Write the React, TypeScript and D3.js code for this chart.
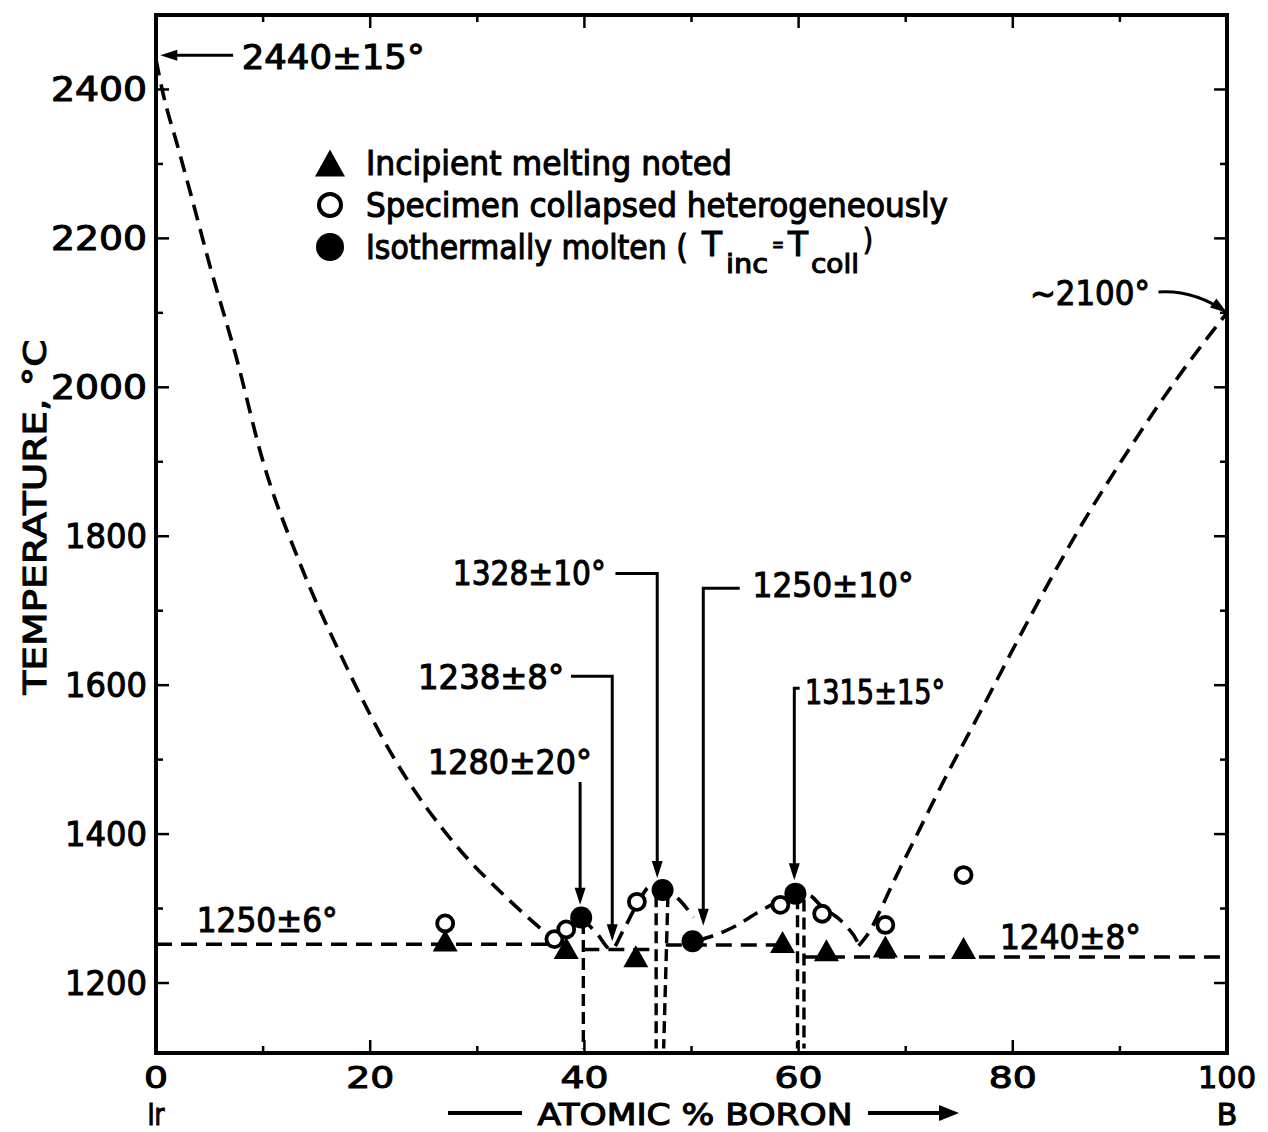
import React from "react";
import * as d3 from "d3";

type Pt = [number, number];

// ---------- axes ----------
const xMajorTicks = [0, 20, 40, 60, 80, 100];
const xMinorTicks = [10, 30, 50, 70, 90];
const yMajorTicks = [1200, 1400, 1600, 1800, 2000, 2200, 2400];
const yMinorTicks = [1300, 1500, 1700, 1900, 2100, 2300];

// ---------- observations (atomic % B, °C) ----------
const incipientMelting: Pt[] = [
  [27.0, 1257], [38.3, 1247], [44.8, 1236], [58.5, 1255], [62.6, 1244], [68.1, 1249], [75.4, 1247],
];
const collapsedHeterogeneously: Pt[] = [
  [27.0, 1280], [37.2, 1259], [38.3, 1272], [44.9, 1309], [58.3, 1305], [62.2, 1293], [68.1, 1278], [75.4, 1345],
];
const isothermallyMolten: Pt[] = [[39.7, 1288], [47.3, 1325], [50.1, 1256], [59.7, 1320]];

// ---------- phase boundaries (dashed) ----------
const liquidusIr: Pt[] = [
  [0, 2440], [0.65, 2395], [2, 2325], [3.2, 2262], [5, 2165], [7.5, 2040], [10, 1900], [13.4, 1765],
  [17.6, 1630], [22.3, 1500], [28, 1385], [33, 1311], [36.8, 1262],
];
const liquidusB: Pt[] = [
  [65.6, 1250], [66.7, 1271], [67.7, 1300], [69, 1340], [70.8, 1392], [73.5, 1470], [77, 1565],
  [81, 1675], [86, 1805], [91, 1920], [95.5, 2015], [100, 2100],
];
const domeIrB: Pt[] = [
  [39.7, 1288], [41.2, 1266], [42.5, 1245], [43.6, 1270], [44.9, 1305], [46.2, 1330], [47.3, 1327],
  [48.7, 1314], [50.2, 1288],
];
const domeIrB2: Pt[] = [
  [50.6, 1257], [52.5, 1266], [54.3, 1278], [56.1, 1294], [57.6, 1306], [59.7, 1321], [61, 1318],
  [62.2, 1302], [63.6, 1288], [64.6, 1274], [65.4, 1258], [65.8, 1245],
];
const eutectics: Pt[][] = [
  [[0, 1252], [37, 1252]],
  [[39.9, 1245], [46.7, 1245]],
  [[47.6, 1251], [58.2, 1251]],
  [[60.5, 1235], [100, 1235]],
];
const compoundLines: Pt[][] = [
  [[39.9, 1282], [39.9, 1112]],
  [[46.7, 1318], [46.7, 1112]],
  [[47.8, 1318], [47.4, 1112]],
  [[59.9, 1315], [59.9, 1112]],
  [[60.5, 1312], [60.5, 1112]],
];

// ---------- annotations ----------
const arrowNotes = [
  { text: "2440±15°", at: [8.0, 2443] as Pt, anchor: "start", width: 183, path: [[7.2, 2446], [0.4, 2446]] as Pt[] },
  { text: "1328±10°", at: [42.0, 1750] as Pt, anchor: "end", width: 153, path: [[42.9, 1750], [46.8, 1750], [46.8, 1341]] as Pt[] },
  { text: "1238±8°", at: [38.1, 1611] as Pt, anchor: "end", width: 146, path: [[38.75, 1612], [42.6, 1612], [42.6, 1256]] as Pt[] },
  { text: "1280±20°", at: [33.05, 1497] as Pt, anchor: "middle", width: 164, path: [[39.6, 1470], [39.6, 1305]] as Pt[] },
  { text: "1250±10°", at: [55.7, 1735] as Pt, anchor: "start", width: 161, path: [[54.5, 1730], [51.1, 1730], [51.1, 1277]] as Pt[] },
  { text: "1315±15°", at: [60.6, 1591] as Pt, anchor: "start", width: 140, path: [[60.1, 1596], [59.6, 1596], [59.6, 1338]] as Pt[] },
];
const plainNotes = [
  { text: "1250±6°", at: [3.8, 1285] as Pt, width: 141 },
  { text: "1240±8°", at: [78.8, 1262] as Pt, width: 141 },
];
const curvedNote = { text: "~2100°", at: [92.8, 2127] as Pt, width: 120, from: [93.6, 2128] as Pt, ctrl: [97.0, 2131] as Pt, to: [100, 2100] as Pt };

const legendLabels = ["Incipient melting noted", "Specimen collapsed heterogeneously", "Isothermally molten ("];

const FONT = "DejaVu Sans";

function tickLabelWidth(s: string) {
  let w = 0;
  for (const c of s) w += c === "1" ? 10 : 24;
  return w;
}

function arrowHead(tip: Pt, from: Pt, len = 16, half = 5) {
  const dx = tip[0] - from[0];
  const dy = tip[1] - from[1];
  const d = Math.hypot(dx, dy) || 1;
  const ux = dx / d, uy = dy / d;
  const bx = tip[0] - ux * len, by = tip[1] - uy * len;
  return `M${tip[0]},${tip[1]}L${bx - uy * half},${by + ux * half}L${bx + uy * half},${by - ux * half}Z`;
}

export default function App() {
  const W = 1268, H = 1132;
  const x = d3.scaleLinear().domain([0, 100]).range([156, 1227]);
  const y = d3.scaleLinear().domain([1106, 2500]).range([1053, 15]);
  const px = (p: Pt): Pt => [x(p[0]), y(p[1])];
  const straight = d3.line<Pt>().x((d) => x(d[0])).y((d) => y(d[1]));
  const smooth = d3.line<Pt>().x((d) => x(d[0])).y((d) => y(d[1])).curve(d3.curveMonotoneX);

  const x0 = x(0), x1 = x(100), yTop = y(2500), yBot = y(1106);
  const dash = { fill: "none", stroke: "#000", strokeWidth: 3.6, strokeDasharray: "16 9" } as const;
  const dashV = { fill: "none", stroke: "#000", strokeWidth: 3.4, strokeDasharray: "12 6" } as const;
  const txt = {
    fontFamily: FONT, fontWeight: 400, fill: "#000", stroke: "#000", strokeWidth: 1.1,
    dominantBaseline: "central",
  } as const;

  const triPath = (cx: number, cy: number, w: number, h: number) =>
    `M${cx},${cy - h / 2}L${cx + w / 2},${cy + h / 2}L${cx - w / 2},${cy + h / 2}Z`;

  const legendY = [163, 205, 247];

  return (
    <svg width={W} height={H} viewBox={`0 0 ${W} ${H}`} style={{ position: "absolute", left: 0, top: 0, background: "#fff" }}>
      <rect x={0} y={0} width={W} height={H} fill="#fff" />

      {/* frame */}
      <rect x={x0} y={yTop} width={x1 - x0} height={yBot - yTop} fill="none" stroke="#000" strokeWidth={4} />

      {/* ticks */}
      {xMajorTicks.concat(xMinorTicks).map((t) => {
        const L = xMajorTicks.includes(t) ? 13 : 7;
        return (
          <g key={"xt" + t}>
            <line x1={x(t)} x2={x(t)} y1={yBot} y2={yBot - L} stroke="#000" strokeWidth={2.5} />
            <line x1={x(t)} x2={x(t)} y1={yTop} y2={yTop + L} stroke="#000" strokeWidth={2.5} />
          </g>
        );
      })}
      {yMajorTicks.concat(yMinorTicks).map((t) => {
        const L = yMajorTicks.includes(t) ? 13 : 7;
        return (
          <g key={"yt" + t}>
            <line x1={x0} x2={x0 + L} y1={y(t)} y2={y(t)} stroke="#000" strokeWidth={2.5} />
            <line x1={x1} x2={x1 - L} y1={y(t)} y2={y(t)} stroke="#000" strokeWidth={2.5} />
          </g>
        );
      })}

      {/* tick labels */}
      {yMajorTicks.map((t) => (
        <text key={"yl" + t} x={147} y={y(t)} textAnchor="end" fontSize={34} textLength={tickLabelWidth(String(t))} lengthAdjust="spacingAndGlyphs" {...txt}>
          {String(t)}
        </text>
      ))}
      {xMajorTicks.map((t) => (
        <text key={"xl" + t} x={x(t)} y={1077} textAnchor="middle" fontSize={31} textLength={tickLabelWidth(String(t))} lengthAdjust="spacingAndGlyphs" {...txt}>
          {String(t)}
        </text>
      ))}

      {/* axis titles */}
      <text x={x(0)} y={1114} textAnchor="middle" fontSize={30} {...txt} textLength={17} lengthAdjust="spacingAndGlyphs">Ir</text>
      <text x={x(100)} y={1114} textAnchor="middle" fontSize={30} {...txt}>B</text>
      <line x1={448} x2={522} y1={1113} y2={1113} stroke="#000" strokeWidth={4} />
      <text x={695} y={1114} textAnchor="middle" fontSize={30} textLength={315} lengthAdjust="spacingAndGlyphs" {...txt}>ATOMIC % BORON</text>
      <line x1={868} x2={944} y1={1113} y2={1113} stroke="#000" strokeWidth={4} />
      <path d={arrowHead([959, 1113], [868, 1113], 20, 8)} fill="#000" />
      <text transform="translate(35,517) rotate(-90)" x={0} y={0} textAnchor="middle" fontSize={32} textLength={355} lengthAdjust="spacingAndGlyphs" {...txt}>
        TEMPERATURE, °C
      </text>

      {/* phase boundaries */}
      <path d={smooth(liquidusIr) || ""} {...dash} />
      <path d={smooth(liquidusB) || ""} {...dash} />
      <path d={smooth(domeIrB) || ""} {...dash} />
      <path d={smooth(domeIrB2) || ""} {...dash} />
      {eutectics.map((seg, i) => (
        <path key={"eu" + i} d={straight(seg) || ""} {...dash} />
      ))}
      {compoundLines.map((seg, i) => (
        <path key={"cl" + i} d={straight(seg) || ""} {...dashV} />
      ))}

      {/* annotation arrows */}
      {arrowNotes.map((n, i) => {
        const pts = n.path.map(px);
        const tip = pts[pts.length - 1];
        const prev = pts[pts.length - 2];
        const dx = tip[0] - prev[0], dy = tip[1] - prev[1];
        const d = Math.hypot(dx, dy);
        const shortened: Pt = [tip[0] - (dx / d) * 10, tip[1] - (dy / d) * 10];
        const linePts = pts.slice(0, -1).concat([shortened]);
        const [tx, ty] = px(n.at);
        return (
          <g key={"an" + i}>
            <path d={"M" + linePts.map((p) => p.join(",")).join("L")} fill="none" stroke="#000" strokeWidth={3} />
            <path d={arrowHead(tip, prev, 17, 5.5)} fill="#000" />
            <text x={tx} y={ty} textAnchor={n.anchor as any} fontSize={34} textLength={n.width} lengthAdjust="spacingAndGlyphs" {...txt}>
              {n.text}
            </text>
          </g>
        );
      })}
      {plainNotes.map((n, i) => {
        const [tx, ty] = px(n.at);
        return (
          <text key={"pn" + i} x={tx} y={ty} textAnchor="start" fontSize={34} textLength={n.width} lengthAdjust="spacingAndGlyphs" {...txt}>
            {n.text}
          </text>
        );
      })}
      {(() => {
        const a = px(curvedNote.from), c = px(curvedNote.ctrl), b = px(curvedNote.to);
        const [tx, ty] = px(curvedNote.at);
        return (
          <g>
            <path d={`M${a[0]},${a[1]}Q${c[0]},${c[1]} ${b[0]},${b[1]}`} fill="none" stroke="#000" strokeWidth={3} />
            <path d={arrowHead(b, [c[0] + (b[0] - c[0]) * 0.6, c[1] + (b[1] - c[1]) * 0.6] as Pt, 17, 5.5)} fill="#000" />
            <text x={tx} y={ty} textAnchor="end" fontSize={34} textLength={curvedNote.width} lengthAdjust="spacingAndGlyphs" {...txt}>
              {curvedNote.text}
            </text>
          </g>
        );
      })()}

      {/* data markers */}
      {collapsedHeterogeneously.map((p, i) => (
        <circle key={"oc" + i} cx={x(p[0])} cy={y(p[1])} r={8} fill="#fff" stroke="#000" strokeWidth={3.8} />
      ))}
      {incipientMelting.map((p, i) => (
        <path key={"tr" + i} d={triPath(x(p[0]), y(p[1]), 25, 22)} fill="#000" />
      ))}
      {isothermallyMolten.map((p, i) => (
        <circle key={"fc" + i} cx={x(p[0])} cy={y(p[1])} r={11} fill="#000" />
      ))}

      {/* legend */}
      <path d={triPath(330, legendY[0], 30, 27)} fill="#000" />
      <circle cx={330} cy={legendY[1]} r={11} fill="#fff" stroke="#000" strokeWidth={4} />
      <circle cx={330} cy={legendY[2]} r={14} fill="#000" />
      <text x={366} y={legendY[0]} fontSize={33} textLength={366} lengthAdjust="spacingAndGlyphs" {...txt}>{legendLabels[0]}</text>
      <text x={366} y={legendY[1]} fontSize={33} textLength={582} lengthAdjust="spacingAndGlyphs" {...txt}>{legendLabels[1]}</text>
      <text x={366} y={legendY[2]} fontSize={33} textLength={322} lengthAdjust="spacingAndGlyphs" {...txt}>{legendLabels[2]}</text>
      <text x={702} y={legendY[2] - 3} fontSize={33} {...txt} textLength={20} lengthAdjust="spacingAndGlyphs">T</text>
      <text x={726} y={legendY[2] + 17} fontSize={26} {...txt} textLength={42} lengthAdjust="spacingAndGlyphs">inc</text>
      <text x={772} y={legendY[2] - 3} fontSize={22} {...txt} textLength={12} lengthAdjust="spacingAndGlyphs">=</text>
      <text x={788} y={legendY[2] - 3} fontSize={33} {...txt} textLength={20} lengthAdjust="spacingAndGlyphs">T</text>
      <text x={811} y={legendY[2] + 17} fontSize={26} {...txt} textLength={48} lengthAdjust="spacingAndGlyphs">coll</text>
      <text x={863} y={legendY[2] - 8} fontSize={30} {...txt} textLength={10} lengthAdjust="spacingAndGlyphs">)</text>
    </svg>
  );
}
